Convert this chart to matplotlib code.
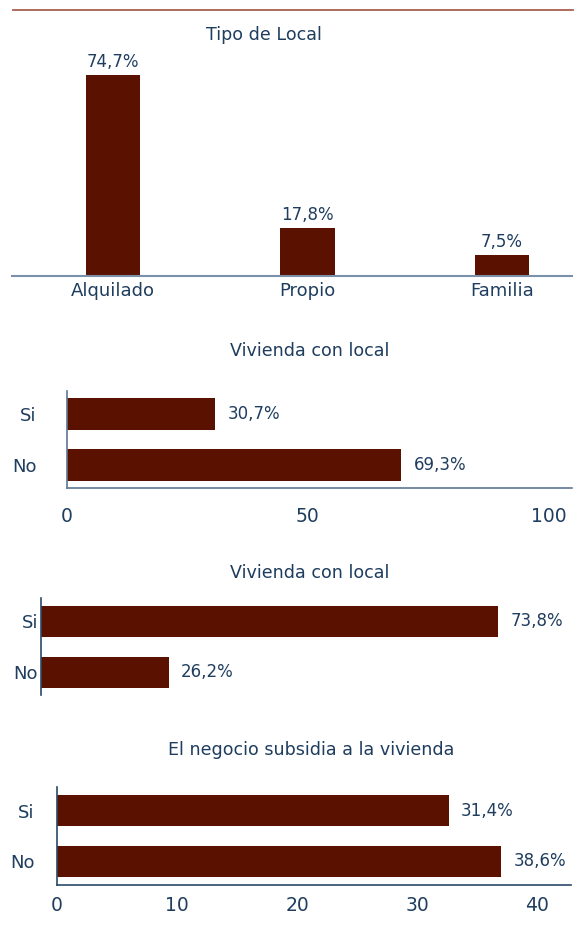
import matplotlib
matplotlib.use("Agg")
import matplotlib.pyplot as plt
from matplotlib.lines import Line2D

# data
tipo_cats = ["Alquilado", "Propio", "Familia"]
tipo_vals = [74.7, 17.8, 7.5]
tipo_labels = ["74,7%", "17,8%", "7,5%"]

viv1_cats = ["Si", "No"]
viv1_vals = [30.7, 69.3]
viv1_labels = ["30,7%", "69,3%"]

viv2_cats = ["Si", "No"]
viv2_vals = [73.8, 26.2]
viv2_labels = ["73,8%", "26,2%"]

subs_cats = ["Si", "No"]
subs_vals = [32.6, 37.0]   # bar lengths as drawn against the axis
subs_labels = ["31,4%", "38,6%"]

BAR = "#5a1100"
TXT = "#1f3d5e"
W, H = 581, 930

plt.rcParams["font.family"] = ["DejaVu Sans"]

fig = plt.figure(figsize=(W / 100, H / 100), dpi=100)


def rect(x0, y0, x1, y1):
    return [x0 / W, 1 - y1 / H, (x1 - x0) / W, (y1 - y0) / H]


def ftext(x, y, s, size=12.6):
    fig.text(x / W, 1 - y / H, s, ha="center", va="center", color=TXT, fontsize=size)


# top rule
fig.add_artist(Line2D([13 / W, 573 / W], [1 - 10.5 / H] * 2, color="#a8604f", lw=1.3))

# panel 1: Tipo de Local
ax1 = fig.add_axes(rect(12, 40, 572, 275.5))
xs = range(len(tipo_cats))
ax1.bar(xs, tipo_vals, width=0.278, color=BAR)
for x, v, lab in zip(xs, tipo_vals, tipo_labels):
    ax1.annotate(lab, (x, v), xytext=(0, 3), textcoords="offset points",
                 ha="center", va="bottom", color=TXT, fontsize=12)
ax1.set_xlim(-0.519, 2.36)
ax1.set_ylim(0, 87.7)
ax1.set_xticks(list(xs))
ax1.set_xticklabels(tipo_cats, fontsize=13, color=TXT)
ax1.set_yticks([])
ax1.tick_params(axis="x", length=0, pad=5)
for s in ["top", "right", "left"]:
    ax1.spines[s].set_visible(False)
ax1.spines["bottom"].set_color("#7b91a9")
ax1.spines["bottom"].set_linewidth(1.5)
ftext(264, 35, "Tipo de Local")


def hpanel(box, cats, vals, labels, ylim, xlim, xticks, ypad, xpad, spine_col, bottom=True):
    ax = fig.add_axes(rect(*box))
    ys = range(len(cats))
    ax.barh(ys, vals, height=0.61, color=BAR)
    for y, v, lab in zip(ys, vals, labels):
        ax.annotate(lab, (v, y), xytext=(9, 0), textcoords="offset points",
                    ha="left", va="center", color=TXT, fontsize=12)
    ax.set_ylim(*ylim)
    ax.set_xlim(*xlim)
    ax.set_yticks(list(ys))
    ax.set_yticklabels(cats, fontsize=13, color=TXT)
    ax.tick_params(axis="y", length=0, pad=ypad)
    for s in ["top", "right"]:
        ax.spines[s].set_visible(False)
    ax.spines["left"].set_color(spine_col)
    ax.spines["left"].set_linewidth(1.2)
    if bottom:
        ax.set_xticks(xticks)
        ax.set_xticklabels([str(t) for t in xticks], fontsize=13.5, color=TXT)
        ax.tick_params(axis="x", length=0, pad=xpad)
        ax.spines["bottom"].set_color(spine_col)
        ax.spines["bottom"].set_linewidth(1.2)
    else:
        ax.set_xticks([])
        ax.spines["bottom"].set_visible(False)
    return ax


# panel 2
hpanel((67, 391, 572, 488.5), viv1_cats, viv1_vals, viv1_labels,
       (1.46, -0.45), (0, 104.8), [0, 50, 100], 22, 13, "#5d7792")
ftext(310, 351, "Vivienda con local")

# panel 3
hpanel((41, 598, 572, 695), viv2_cats, viv2_vals, viv2_labels,
       (1.447, -0.457), (7.75, 84.5), [], 2, 0, "#2c4a6a", bottom=False)
ftext(310, 573, "Vivienda con local")

# panel 4
hpanel((57, 787, 571, 885), subs_cats, subs_vals, subs_labels,
       (1.467, -0.463), (0, 42.8), [0, 10, 20, 30, 40], 16, 8, "#2c4a6a")
ftext(311, 750, "El negocio subsidia a la vivienda")

fig.savefig("out.png", dpi=100)
